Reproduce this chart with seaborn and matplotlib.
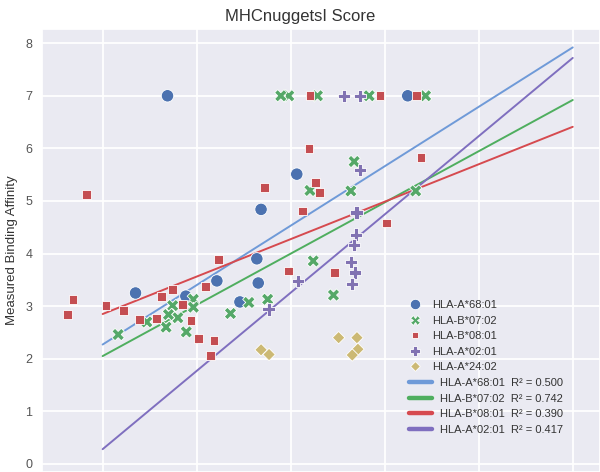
import numpy as np
import pandas as pd
import matplotlib
matplotlib.use("Agg")
import matplotlib.pyplot as plt
import seaborn as sns
from matplotlib.lines import Line2D

# ---------------- data ----------------
alleles = ["HLA-A*68:01", "HLA-B*07:02", "HLA-B*08:01", "HLA-A*02:01", "HLA-A*24:02"]

a6801_x = [0.138, 0.413, 0.337, 0.328, 0.331, 0.243, 0.292, 0.177, 0.070, 0.649]
a6801_y = [7.00, 5.51, 4.84, 3.90, 3.44, 3.48, 3.08, 3.19, 3.25, 7.00]

b0702_x = [0.396, 0.379, 0.457, 0.567, 0.687, 0.535, 0.441, 0.528, 0.666, 0.448,
           0.491, 0.351, 0.311, 0.272, 0.193, 0.193, 0.149, 0.160, 0.140, 0.135,
           0.178, 0.094, 0.033]
b0702_y = [7.00, 7.00, 7.00, 7.00, 7.00, 5.75, 5.20, 5.19, 5.19, 3.86,
           3.21, 3.13, 3.07, 2.86, 3.13, 2.98, 3.01, 2.78, 2.84, 2.60,
           2.51, 2.70, 2.46]

b0801_x = [0.441, 0.590, 0.668, 0.439, 0.677, 0.345, 0.453, 0.462, -0.034, 0.425,
           0.604, 0.247, 0.396, 0.493, -0.063, -0.074, 0.007, 0.045, 0.079, 0.115,
           0.125, 0.149, 0.170, 0.188, 0.204, 0.237, 0.229, 0.219]
b0801_y = [7.00, 7.00, 7.00, 6.00, 5.83, 5.25, 5.35, 5.16, 5.13, 4.81,
           4.58, 3.89, 3.67, 3.64, 3.12, 2.84, 3.01, 2.92, 2.75, 2.77,
           3.18, 3.31, 3.03, 2.73, 2.39, 2.34, 2.06, 3.37]

a0201_x = [0.514, 0.547, 0.547, 0.540, 0.539, 0.535, 0.528, 0.537, 0.531, 0.415, 0.353]
a0201_y = [7.00, 7.00, 5.59, 4.78, 4.36, 4.16, 3.84, 3.64, 3.42, 3.48, 2.94]

a2402_x = [0.502, 0.541, 0.543, 0.531, 0.337, 0.354]
a2402_y = [2.40, 2.40, 2.18, 2.07, 2.17, 2.08]

# fitted regression lines (value at x=0 and x=1) and R^2
fit_alleles = ["HLA-A*68:01", "HLA-B*07:02", "HLA-B*08:01", "HLA-A*02:01"]
fit_x = [0.0, 1.0]
fit_y0 = [2.27, 2.05, 2.85, 0.28]
fit_y1 = [7.92, 6.92, 6.41, 7.72]
fit_r2 = [0.500, 0.742, 0.390, 0.417]

yticks = [0, 1, 2, 3, 4, 5, 6, 7, 8]
title = "MHCnuggetsI Score"
ylabel = "Measured Binding Affinity"

# ---------------- tables ----------------
xs = [a6801_x, b0702_x, b0801_x, a0201_x, a2402_x]
ys = [a6801_y, b0702_y, b0801_y, a0201_y, a2402_y]
df = pd.concat([pd.DataFrame({"x": x, "y": y, "allele": a})
                for a, x, y in zip(alleles, xs, ys)], ignore_index=True)

lines_df = pd.concat([pd.DataFrame({"x": fit_x, "y": [y0, y1], "allele": a})
                      for a, y0, y1 in zip(fit_alleles, fit_y0, fit_y1)],
                     ignore_index=True)

# ---------------- style ----------------
sns.set_theme(style="darkgrid")
plt.rcParams["font.family"] = ["Liberation Sans", "DejaVu Sans"]
plt.rcParams["grid.linewidth"] = 1.3

pt_colors = ["#4C72B0", "#55A868", "#C44E52", "#8172B2", "#CCB974"]
line_colors = ["#6F9AD8", "#4FAE5F", "#D64A4F", "#7F6FBF"]
markers = ["o", "X", (4, 0, 45), "P", (4, 0, 0)]

fig = plt.figure(figsize=(6, 4.72), dpi=100)
ax_left = 42
ax = fig.add_axes([ax_left / 600, 0, (600 - ax_left) / 600, (472 - 29) / 472])

sns.lineplot(data=lines_df, x="x", y="y", hue="allele", hue_order=fit_alleles,
             palette=line_colors, linewidth=1.4, legend=False, ax=ax, zorder=2)
sns.scatterplot(data=df, x="x", y="y", hue="allele", style="allele",
                hue_order=alleles, style_order=alleles,
                palette=pt_colors, markers=markers, s=80,
                edgecolor="white", linewidth=0.6, legend=False, ax=ax, zorder=3)

ax.set_xlim(-0.129, 1.058)
ax.set_ylim(-0.154, 8.27)
ax.set_xticks([0, 0.2, 0.4, 0.6, 0.8, 1.0])
ax.set_xticklabels([])
ax.set_yticks(yticks)
ax.set_yticklabels([str(t) for t in yticks], fontsize=9, color="#555555")
ax.tick_params(axis="both", length=0, pad=7)
ax.set_xlabel("")
ax.set_ylabel(ylabel, fontsize=9.5, color="#333333", labelpad=5)
ax.set_title(title, fontsize=12, color="#333333", pad=6,
             x=(300 - ax_left) / (600 - ax_left))

# legends
fs = 8
h1 = [Line2D([], [], linestyle="none", marker=m, markersize=7.5 if m == "o" else 7,
             markerfacecolor=c, markeredgecolor="white", markeredgewidth=0.6)
      for m, c in zip(markers, pt_colors)]
leg1 = ax.legend(h1, alleles, loc="upper left",
                 bbox_to_anchor=(409 / 600, 1 - 300 / 472),
                 bbox_transform=fig.transFigure, frameon=False, fontsize=fs,
                 handlelength=1.0, handletextpad=1.1, borderpad=0,
                 borderaxespad=0, labelspacing=0.5, labelcolor="#333333")
ax.add_artist(leg1)

h2 = [Line2D([], [], color=c, linewidth=3.2) for c in line_colors]
labels2 = [f"{a}  R\u00b2 = {r:.3f}" for a, r in zip(fit_alleles, fit_r2)]
leg2 = ax.legend(h2, labels2, loc="upper left",
                 bbox_to_anchor=(409 / 600, 1 - 378 / 472),
                 bbox_transform=fig.transFigure, frameon=False, fontsize=fs,
                 handlelength=2.1, handletextpad=0.65, borderpad=0,
                 borderaxespad=0, labelspacing=0.5, labelcolor="#333333")

fig.savefig("out.png", dpi=100)
